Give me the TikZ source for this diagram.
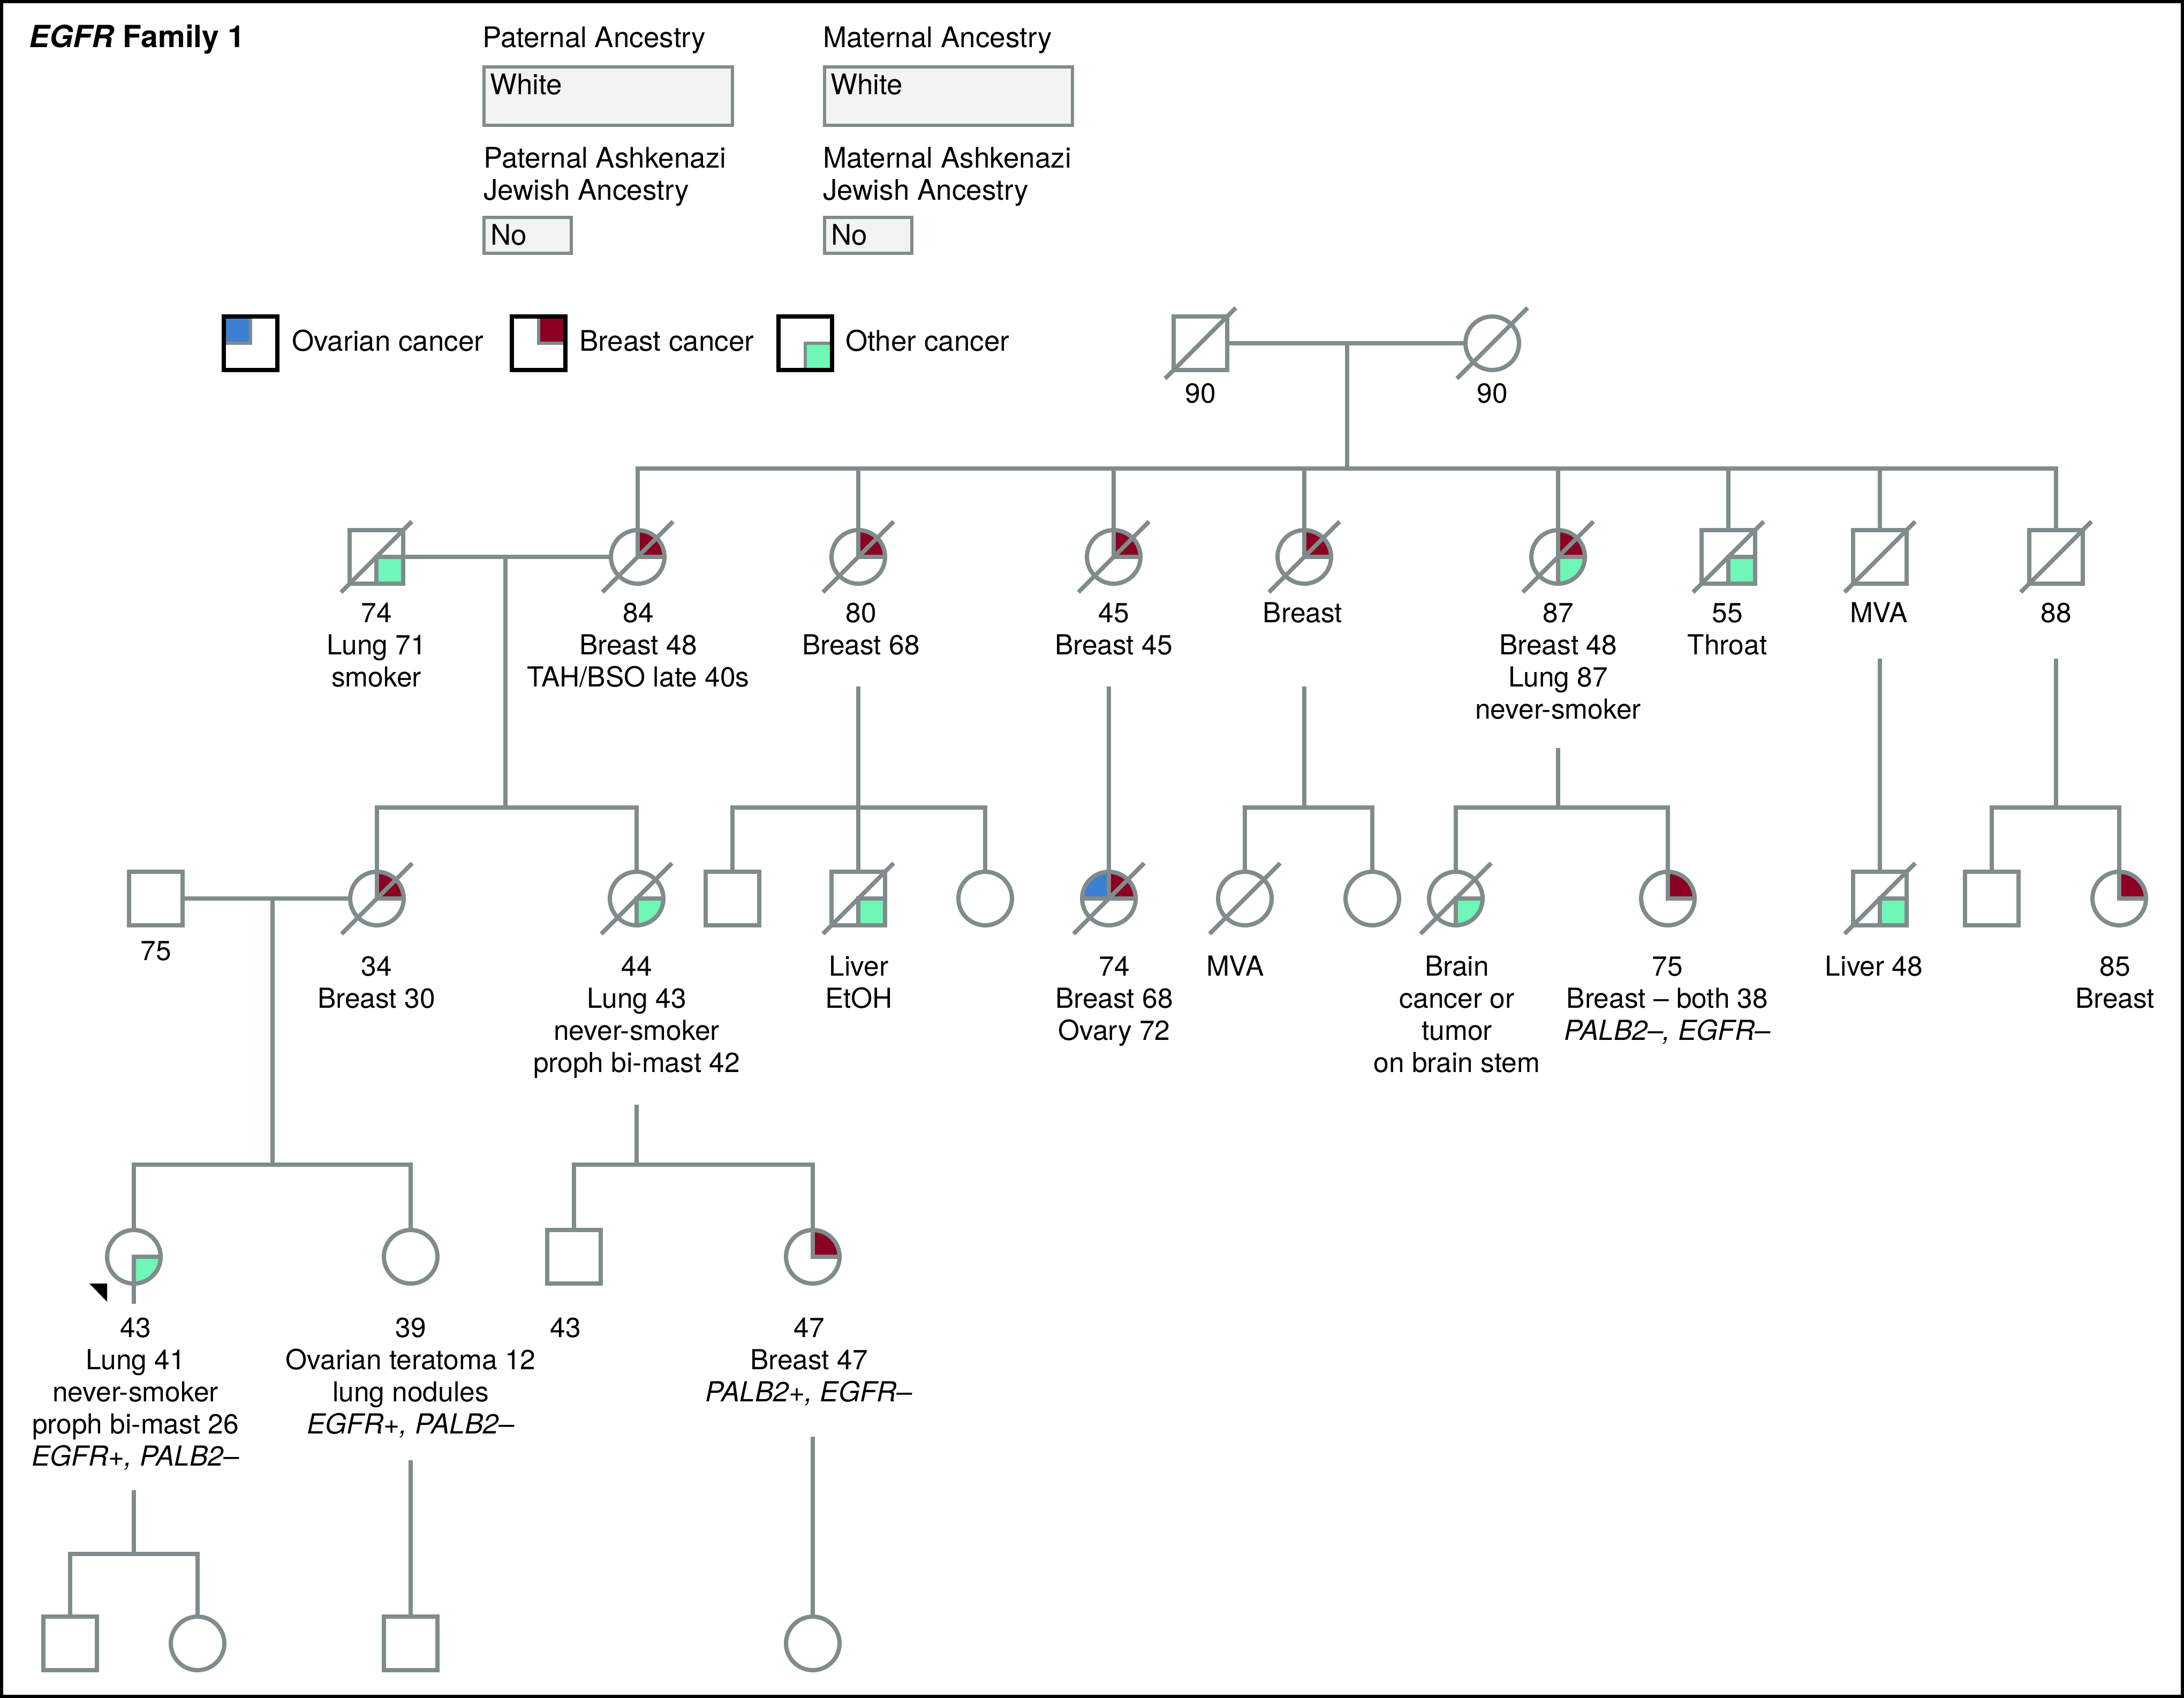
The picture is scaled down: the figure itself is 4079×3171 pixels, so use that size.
\documentclass[tikz,border=0pt]{standalone}
\usepackage{fontspec}
\setmainfont{TeX Gyre Heros}
\definecolor{pg}{HTML}{7F8C8B}
\definecolor{brc}{HTML}{8B0022}
\definecolor{ovc}{HTML}{3B80D2}
\definecolor{otc}{HTML}{6EF7B6}
\definecolor{boxfill}{HTML}{F2F4F3}
\newcommand\pedfont{\fontsize{51.5}{60}\selectfont}
\newcommand\topfont{\fontsize{53}{60}\selectfont}
\newcommand\plabel[4]{\foreach \t [count=\i from 0] in {#4}{\node[lbl] (#1-\i) at (#2,{#3+60*\i}) {\t};}}
\newcommand\dead[1]{\draw[pl] ([shift={(-66,66)}]#1.center) -- ([shift={(66,-66)}]#1.center);}
\tikzset{
  pl/.style={draw=pg, line width=8pt},
  pers/.style={draw=pg, line width=8pt, fill=white, minimum size=100pt, inner sep=0pt},
  male/.style={pers, rectangle},
  female/.style={pers, circle},
  legbox/.style={draw=black, line width=8pt, fill=white, minimum size=100pt, inner sep=0pt, rectangle},
  lbl/.style={anchor=base, inner sep=0pt, font=\pedfont},
  toplbl/.style={anchor=base west, inner sep=0pt, font=\topfont},
  fieldbox/.style={draw=pg, line width=6pt, fill=boxfill, inner sep=0pt, outer sep=0pt, anchor=north west},
  br/.style={path picture={
    \fill[brc] (path picture bounding box.center) rectangle (path picture bounding box.north east);
    \draw[pg, line width=#1] (path picture bounding box.north) -- (path picture bounding box.center) -- (path picture bounding box.east);}},
  br/.default=8pt,
  ot/.style={path picture={
    \fill[otc] (path picture bounding box.center) rectangle (path picture bounding box.south east);
    \draw[pg, line width=#1] (path picture bounding box.east) -- (path picture bounding box.center) -- (path picture bounding box.south);}},
  ot/.default=8pt,
  ov/.style={path picture={
    \fill[ovc] (path picture bounding box.center) rectangle (path picture bounding box.north west);
    \draw[pg, line width=#1] (path picture bounding box.north) -- (path picture bounding box.center) -- (path picture bounding box.west);}},
  ov/.default=8pt,
  brot/.style={path picture={
    \fill[brc] (path picture bounding box.center) rectangle (path picture bounding box.north east);
    \fill[otc] (path picture bounding box.center) rectangle (path picture bounding box.south east);
    \draw[pg, line width=8pt] (path picture bounding box.north) -- (path picture bounding box.south);
    \draw[pg, line width=8pt] (path picture bounding box.center) -- (path picture bounding box.east);}},
  ovbr/.style={path picture={
    \fill[ovc] (path picture bounding box.center) rectangle (path picture bounding box.north west);
    \fill[brc] (path picture bounding box.center) rectangle (path picture bounding box.north east);
    \draw[pg, line width=8pt] (path picture bounding box.north) -- (path picture bounding box.center);
    \draw[pg, line width=8pt] (path picture bounding box.west) -- (path picture bounding box.east);}},
}
\begin{document}
\begin{tikzpicture}[x=1pt, y=-1pt]
\useasboundingbox (0,0) rectangle (4079,3171);
\draw[black, line width=6pt] (3,3) rectangle (4076,3168);

% ---------- header ----------
\node[anchor=base west, inner sep=0pt, font=\fontsize{57}{60}\selectfont\bfseries] (title) at (54,89) {\textit{EGFR} Family 1};
\node[toplbl] (patanc) at (901,89) {Paternal Ancestry};
\node[toplbl] (matanc) at (1537,89) {Maternal Ancestry};
\node[fieldbox, minimum width=464pt, minimum height=109pt] (patbox) at (904,125) {};
\node[fieldbox, minimum width=463pt, minimum height=109pt] (matbox) at (1540,125) {};
\node[toplbl] (patwhite) at (915,177) {White};
\node[toplbl] (matwhite) at (1551,177) {White};
\node[toplbl] (patash1) at (903,313) {Paternal Ashkenazi};
\node[toplbl] (patash2) at (903,373) {Jewish Ancestry};
\node[toplbl] (matash1) at (1537,313) {Maternal Ashkenazi};
\node[toplbl] (matash2) at (1537,373) {Jewish Ancestry};
\node[fieldbox, minimum width=163pt, minimum height=67pt] (patnobox) at (904,406) {};
\node[fieldbox, minimum width=163pt, minimum height=67pt] (matnobox) at (1540,406) {};
\node[toplbl] (patno) at (916,457) {No};
\node[toplbl] (matno) at (1552,457) {No};

% ---------- legend ----------
\node[legbox, ov=6pt] (legov) at (468,641) {};
\node[legbox, br=6pt] (legbr) at (1006,641) {};
\node[legbox, ot=6pt] (legot) at (1504,641) {};
\node[toplbl] (legovt) at (545,655) {Ovarian cancer};
\node[toplbl] (legbrt) at (1082,655) {Breast cancer};
\node[toplbl] (legott) at (1579,655) {Other cancer};

% ---------- generation I ----------
\node[male] (gf) at (2242,641) {};
\node[female] (gm) at (2787,641) {};
% ---------- generation II ----------
\node[male, ot] (p74) at (703,1040) {};
\node[female, br] (p84) at (1191,1040) {};
\node[female, br] (p80) at (1603,1040) {};
\node[female, br] (p45) at (2080,1040) {};
\node[female, br] (pbr) at (2436,1040) {};
\node[female, brot] (p87) at (2910,1040) {};
\node[male, ot] (p55) at (3228,1040) {};
\node[male] (pmva) at (3511,1040) {};
\node[male] (p88) at (3840,1040) {};
% ---------- generation III ----------
\node[male] (h75) at (291,1678) {};
\node[female, br] (p34) at (704,1678) {};
\node[female, ot] (p44) at (1189,1678) {};
\node[male] (m1) at (1368,1678) {};
\node[male, ot] (liver) at (1603,1678) {};
\node[female] (f1) at (1840,1678) {};
\node[female, ovbr] (p74b) at (2071,1678) {};
\node[female] (mva2) at (2325,1678) {};
\node[female] (f2) at (2563,1678) {};
\node[female, ot] (brain) at (2719,1678) {};
\node[female, br] (p75) at (3115,1678) {};
\node[male, ot] (liver48) at (3511,1678) {};
\node[male] (m2) at (3720,1678) {};
\node[female, br] (p85) at (3958,1678) {};
% ---------- generation IV ----------
\node[female, ot] (pb) at (250,2347) {};
\node[female] (p39) at (767,2347) {};
\node[male] (m43) at (1072,2347) {};
\node[female, br] (p47) at (1518,2347) {};
% ---------- generation V ----------
\node[male] (c1) at (131,3069) {};
\node[female] (c2) at (369,3069) {};
\node[male] (c3) at (767,3069) {};
\node[female] (c4) at (1518,3069) {};

% ---------- coordinates ----------
\coordinate (d1) at (2516,641);
\coordinate (s1) at (2516,875);
\coordinate (m2a) at (944,1040);
\coordinate (s2a) at (944,1508);
\coordinate (t80) at (1603,1282);
\coordinate (s80) at (1603,1508);
\coordinate (t45) at (2071,1282);
\coordinate (tbr) at (2436,1282);
\coordinate (sbr) at (2436,1508);
\coordinate (t87) at (2910,1397);
\coordinate (s87) at (2910,1508);
\coordinate (tmva) at (3511,1230);
\coordinate (t88) at (3840,1230);
\coordinate (s88) at (3840,1508);
\coordinate (m3a) at (509,1677);
\coordinate (s3a) at (509,2175);
\coordinate (t44) at (1189,2063);
\coordinate (s44) at (1189,2175);
\coordinate (tpb) at (250,2783);
\coordinate (spb) at (250,2902);
\coordinate (t39) at (767,2727);
\coordinate (t47) at (1518,2683);

% ---------- connectors ----------
\draw[pl] (gf) -- (gm);
\draw[pl] (d1) -- (s1);
\draw[pl] (p84) |- (s1) -| (p88);
\foreach \n in {p80,p45,pbr,p87,p55,pmva} {\draw[pl] (\n |- s1) -- (\n);}
\draw[pl] (p74) -- (p84);
\draw[pl] (m2a) -- (s2a);
\draw[pl] (p34) |- (s2a) -| (p44);
\draw[pl] (m1) |- (s80) -| (f1);
\draw[pl] (t80) -- (liver);
\draw[pl] (t45) -- (p74b);
\draw[pl] (mva2) |- (sbr) -| (f2);
\draw[pl] (tbr) -- (sbr);
\draw[pl] (brain) |- (s87) -| (p75);
\draw[pl] (t87) -- (s87);
\draw[pl] (tmva) -- (liver48);
\draw[pl] (m2) |- (s88) -| (p85);
\draw[pl] (t88) -- (s88);
\draw[pl] (h75) -- (p34);
\draw[pl] (m3a) -- (s3a);
\draw[pl] (pb) |- (s3a) -| (p39);
\draw[pl] (m43) |- (s44) -| (p47);
\draw[pl] (t44) -- (s44);
\draw[pl] (c1) |- (spb) -| (c2);
\draw[pl] (tpb) -- (spb);
\draw[pl] (t39) -- (c3);
\draw[pl] (t47) -- (c4);

% ---------- deceased ----------
\foreach \n in {gf,gm,p74,p84,p80,p45,pbr,p87,p55,pmva,p88,p34,p44,liver,p74b,mva2,brain,liver48} {\dead{\n}}

% ---------- proband ----------
\draw[pl] (pb.center) -- ++(0,88);
\fill[black] ([shift={(-83,50)}]pb.center) -- ([shift={(-50,50)}]pb.center) -- ([shift={(-50,84)}]pb.center) -- cycle;

% ---------- labels ----------
\plabel{Lgf}{2242}{752}{{90}}
\plabel{Lgm}{2787}{752}{{90}}
\plabel{L74}{703}{1162}{{74},{Lung 71},{smoker}}
\plabel{L84}{1192}{1162}{{84},{Breast 48},{TAH/BSO late 40s}}
\plabel{L80}{1608}{1162}{{80},{Breast 68}}
\plabel{L45}{2080}{1162}{{45},{Breast 45}}
\plabel{Lbr}{2433}{1162}{{Breast}}
\plabel{L87}{2910}{1162}{{87},{Breast 48},{Lung 87},{never-smoker}}
\plabel{L55}{3226}{1162}{{55},{Throat}}
\plabel{Lmva}{3509}{1162}{{MVA}}
\plabel{L88}{3840}{1162}{{88}}
\plabel{Lh75}{291}{1793}{{75}}
\plabel{L34}{703}{1822}{{34},{Breast 30}}
\plabel{L44}{1189}{1822}{{44},{Lung 43},{never-smoker},{proph bi-mast 42}}
\plabel{Lliv}{1604}{1822}{{Liver},{EtOH}}
\plabel{L74b}{2081}{1822}{{74},{Breast 68},{Ovary 72}}
\plabel{Lmva2}{2307}{1822}{{MVA}}
\plabel{Lbrain}{2721}{1822}{{Brain},{cancer or},{tumor},{on brain stem}}
\plabel{L75}{3114}{1822}{{75},{Breast \textendash{} both 38},{\textit{PALB2\textendash, EGFR\textendash}}}
\plabel{Lliv48}{3500}{1822}{{Liver 48}}
\plabel{L85}{3950}{1822}{{85},{Breast}}
\plabel{Lpb}{253}{2497}{{43},{Lung 41},{never-smoker},{proph bi-mast 26},{\textit{EGFR+, PALB2\textendash}}}
\plabel{L39}{767}{2497}{{39},{Ovarian teratoma 12},{lung nodules},{\textit{EGFR+, PALB2\textendash}}}
\plabel{L43}{1056}{2497}{{43}}
\plabel{L47}{1511}{2497}{{47},{Breast 47},{\textit{PALB2+, EGFR\textendash}}}
\end{tikzpicture}
\end{document}
